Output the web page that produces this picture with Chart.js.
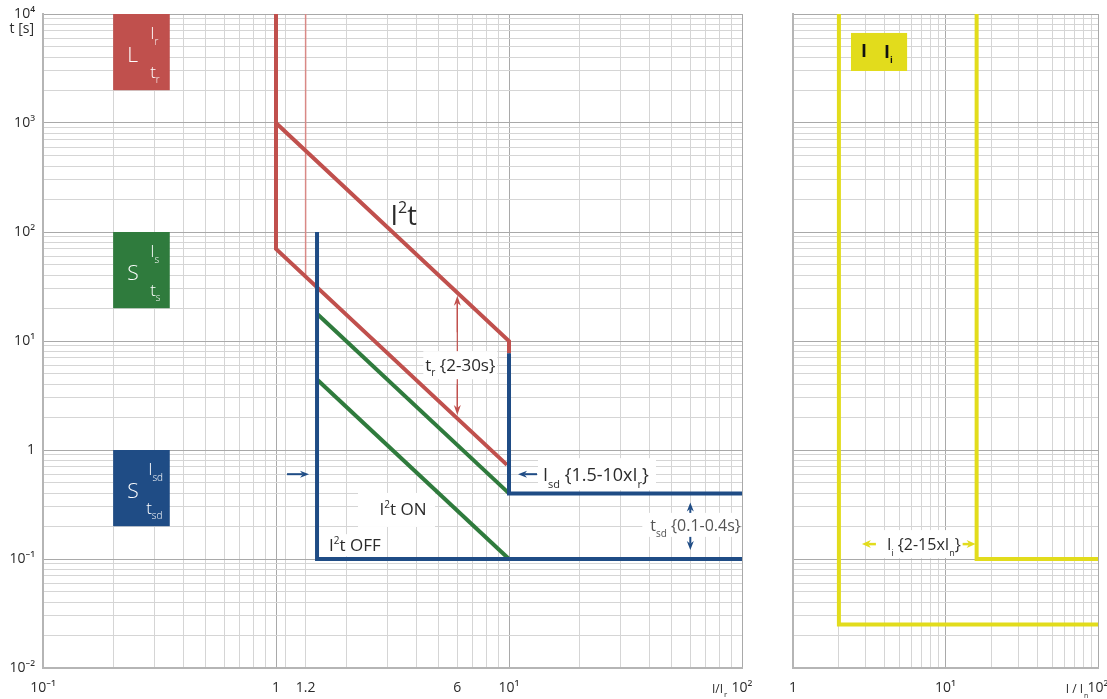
<!DOCTYPE html>
<html><head><meta charset="utf-8">
<script src="https://cdn.jsdelivr.net/npm/chart.js@4.4.1/dist/chart.umd.min.js"></script>
<style>
html,body{margin:0;padding:0;background:#fff;}
#wrap{position:relative;width:1107px;height:699px;overflow:hidden;background:#fff;}
#c1{position:absolute;left:0;top:0;}
#c2{position:absolute;left:760px;top:0;}
</style></head><body>
<div id="wrap"><canvas id="c1" width="760" height="699"></canvas><canvas id="c2" width="347" height="699"></canvas></div>
<script>
// ---------- DATA ----------
const yLabelValues = [0.01, 0.1, 1, 10, 100, 1000, 10000];
const yLabelTexts  = ['10⁻²', '10⁻¹', '1', '10¹', '10²', '10³', '10⁴'];
const xLeftLabelValues = [0.1, 1, 1.34, 6, 10, 100];
const xLeftLabelTexts  = ['10⁻¹', '1', '1.2', '6', '10¹', '10²'];
const xLeftExtraGrid   = [1.1, 1.34];
const xRightLabelValues = [1, 10, 100];
const xRightLabelTexts  = ['1', '10¹', '10²'];

// long-time (L) curves
const redLower   = [{x:1,y:10000},{x:1,y:70},{x:9.8,y:0.73}];
const redUpper   = [{x:1,y:1000},{x:10,y:10},{x:10,y:7.7}];
const redThin    = [{x:1.34,y:10000},{x:1.34,y:39}];
// short-time (S) curves
const greenUpper = [{x:1.5,y:17.8},{x:10,y:0.4}];
const greenLower = [{x:1.5,y:4.44},{x:10,y:0.1}];
const blueLow    = [{x:1.5,y:100},{x:1.5,y:0.1},{x:100,y:0.1}];
const blueHigh   = [{x:10,y:7.7},{x:10,y:0.4},{x:100,y:0.4}];
// instantaneous (I) curves
const yellowLow  = [{x:2,y:10000},{x:2,y:0.025},{x:100,y:0.025}];
const yellowHigh = [{x:16,y:10000},{x:16,y:0.1},{x:100,y:0.1}];

// ---------- STYLE ----------
const RED='#C0504D', RED_THIN='#D98986', GREEN='#2F7B3D', BLUE='#1F4C85', YELLOW='#E2DC1C';
const FONT='"Open Sans", "Noto Sans", sans-serif';
const TXT='#2b2b2b';

function gridValues(lo, hi){ const out=[]; for(let e=lo;e<hi;e++){ for(let m=1;m<10;m++) out.push(+(m*Math.pow(10,e)).toPrecision(6)); } out.push(Math.pow(10,hi)); return out; }
function isDecade(v){ const l=Math.log10(v); return Math.abs(l-Math.round(l))<1e-6; }
function labelFor(v, vals, texts){ for(let i=0;i<vals.length;i++){ if(Math.abs(v-vals[i])<1e-6*vals[i]) return texts[i]; } return ''; }
const gridColor = c => (c.tick && isDecade(c.tick.value)) ? '#a9a9a9' : '#d5d5d5';

function ds(data,color,w){ return {data, borderColor:color, borderWidth:w, pointRadius:0, showLine:true, fill:false, tension:0, clip:6, borderJoinStyle:'miter', borderCapStyle:'butt'}; }

function rich(ctx, x, y, parts, align, color){
  ctx.save(); ctx.fillStyle=color||TXT; ctx.textBaseline='alphabetic'; ctx.textAlign='left';
  let w=0; parts.forEach(p=>{ ctx.font=`${p[3]||'normal'} ${p[1]}px ${FONT}`; p.w=ctx.measureText(p[0]).width; w+=p.w; });
  let cx = align==='center' ? x-w/2 : align==='right' ? x-w : x;
  parts.forEach(p=>{ ctx.font=`${p[3]||'normal'} ${p[1]}px ${FONT}`; ctx.fillText(p[0], cx, y+(p[2]||0)); cx+=p.w; });
  ctx.restore(); return w;
}
function arrow(ctx,x1,y1,x2,y2,color,lw,hl,hw){
  const a=Math.atan2(y2-y1,x2-x1), c=Math.cos(a), s=Math.sin(a);
  ctx.save(); ctx.strokeStyle=color; ctx.fillStyle=color; ctx.lineWidth=lw;
  ctx.beginPath(); ctx.moveTo(x1,y1); ctx.lineTo(x2-c*hl*0.7, y2-s*hl*0.7); ctx.stroke();
  ctx.beginPath(); ctx.moveTo(x2,y2);
  ctx.lineTo(x2-hl*c+hw*s, y2-hl*s-hw*c);
  ctx.lineTo(x2-hl*c*0.7, y2-hl*s*0.7);
  ctx.lineTo(x2-hl*c-hw*s, y2-hl*s+hw*c);
  ctx.closePath(); ctx.fill(); ctx.restore();
}
function whiteRect(ctx,x,y,w,h){ ctx.save(); ctx.fillStyle='#fff'; ctx.fillRect(x,y,w,h); ctx.restore(); }

function scaleOpts(gridVals, labelVals, labelTexts, fitProp, fitVal, showLabels, pad){
  return {
    type:'logarithmic',
    min: gridVals[0], max: gridVals[gridVals.length-1],
    afterBuildTicks: s => { s.ticks = gridVals.map(v=>({value:v})); },
    afterFit: s => { s[fitProp]=fitVal; s.paddingLeft=0; s.paddingRight=0; s.paddingTop=0; s.paddingBottom=0; },
    ticks:{ display:showLabels, autoSkip:false, maxRotation:0, minRotation:0, padding:pad, align:'center',
      font:{family:FONT, size:14}, color:TXT,
      callback: v => labelFor(v, labelVals, labelTexts) },
    grid:{ color:gridColor, lineWidth:1, drawTicks:false },
    border:{ display:true, color:'#b5b5b5', width:2 }
  };
}

// ---------- LEFT PANEL ----------
const leftX = gridValues(-1,2).concat(xLeftExtraGrid).sort((a,b)=>a-b);
const leftY = gridValues(-2,4);

const leftAnno = {
  id:'leftAnno',
  afterDatasetsDraw(chart){
    const ctx=chart.ctx, xs=chart.scales.x, ys=chart.scales.y;
    const X=v=>xs.getPixelForValue(v), Y=v=>ys.getPixelForValue(v);
    // setting boxes
    const boxes=[
      {y0:10000,y1:2000,color:RED,    main:'L', sub:'r'},
      {y0:100,  y1:20,  color:GREEN,  main:'S', sub:'s'},
      {y0:1,    y1:0.2, color:BLUE,   main:'S', sub:'sd'}
    ];
    boxes.forEach(b=>{
      const x0=X(0.2), x1=X(0.35), y0=Y(b.y0), y1=Y(b.y1);
      ctx.save(); ctx.fillStyle=b.color; ctx.fillRect(x0,y0,x1-x0,y1-y0); ctx.restore();
      const sd=b.sub==='sd';
      rich(ctx, x0+14, y0+48, [[b.main,21,0,'300']], 'left', '#fff');
      rich(ctx, x0+(sd?35:37), y0+25, [['I',17,0,'300'],[b.sub,10,6,'300']], 'left', '#fff');
      rich(ctx, x0+(sd?33:37), y0+64, [['t',17,0,'300'],[b.sub,10,5,'300']], 'left', '#fff');
    });
    // I²t label
    rich(ctx, X(3.1), Y(143)+10, [['I',27],['2',16,-12],['t',27]], 'left');
    // t_r double arrow
    const ax=X(6);
    ctx.save(); ctx.strokeStyle=RED; ctx.lineWidth=1.2; ctx.beginPath(); ctx.moveTo(ax,Y(26)+8); ctx.lineTo(ax,Y(2.1)-8); ctx.stroke(); ctx.restore();
    arrow(ctx, ax, Y(12), ax, Y(26), RED, 1.2, 10, 3.5);
    arrow(ctx, ax, Y(4), ax, Y(2.1), RED, 1.2, 10, 3.5);
    const tcy=Y(6);
    whiteRect(ctx, ax-34, tcy-14, 74, 28);
    rich(ctx, ax+3, tcy+6, [['t',17],['r',10,5],[' {2-30s}',17]], 'center');
    // I_sd
    const iy=Y(0.6);
    arrow(ctx, X(1.5)-30, iy, X(1.5)-8, iy, BLUE, 2, 9, 3.5);
    whiteRect(ctx, X(10)+29, iy-16, 118, 32);
    arrow(ctx, X(10)+28, iy, X(10)+9, iy, BLUE, 2, 9, 3.5);
    rich(ctx, X(10)+34, iy+7, [['I',18],['sd',11,7],[' {1.5-10xI',18],['r',11,7],['}',18]], 'left');
    // I²t ON / OFF
    whiteRect(ctx, 358, Y(0.294)-15, 77, 34);
    rich(ctx, 403, Y(0.294)+7, [['I',17],['2',10,-7],['t ON',17]], 'center');
    whiteRect(ctx, X(1.5)+6, Y(0.134)-11, 64, 22);
    rich(ctx, X(1.5)+12, Y(0.134)+6, [['I',17],['2',10,-7],['t OFF',17]], 'left');
    // t_sd
    const tx=X(60);
    arrow(ctx, tx, Y(0.4)+22, tx, Y(0.4)+9, BLUE, 2, 9, 3.5);
    arrow(ctx, tx, Y(0.1)-23, tx, Y(0.1)-9, BLUE, 2, 9, 3.5);
    whiteRect(ctx, tx-48, Y(0.21)-11, 96, 24);
    rich(ctx, tx-40, Y(0.21)+7, [['t',16],['sd',10,6],[' {0.1-0.4s}',16]], 'left', '#555');
    // axis captions
    rich(ctx, 34, 33, [['t [s]',14]], 'right');
    rich(ctx, 723, 693, [['I/I',12]], 'right');
    rich(ctx, 724, 697, [['r',8]], 'left');
  }
};

new Chart(document.getElementById('c1'), {
  type:'scatter',
  data:{ datasets:[
    ds(blueHigh,BLUE,4), ds(blueLow,BLUE,4),
    ds(greenUpper,GREEN,4), ds(greenLower,GREEN,4),
    ds(redUpper,RED,4), ds(redLower,RED,4), ds(redThin,RED_THIN,1.5)
  ]},
  options:{
    responsive:false, animation:false, events:[],
    layout:{ autoPadding:false, padding:{ top:14, right:18, left:0, bottom:0 } },
    plugins:{ legend:{display:false}, tooltip:{enabled:false} },
    scales:{
      x: scaleOpts(leftX, xLeftLabelValues, xLeftLabelTexts, 'height', 31, true, 12),
      y: scaleOpts(leftY, yLabelValues, yLabelTexts, 'width', 43, true, 8)
    }
  },
  plugins:[leftAnno]
});

// ---------- RIGHT PANEL ----------
const rightX = gridValues(0,2);
const rightAnno = {
  id:'rightAnno',
  afterDatasetsDraw(chart){
    const ctx=chart.ctx, xs=chart.scales.x, ys=chart.scales.y;
    const X=v=>xs.getPixelForValue(v), Y=v=>ys.getPixelForValue(v);
    const x0=X(2.4), x1=X(5.6), y0=Y(6700), y1=Y(3000);
    ctx.save(); ctx.fillStyle=YELLOW; ctx.fillRect(x0,y0,x1-x0,y1-y0); ctx.restore();
    rich(ctx, x0+10, y0+24, [['I',18,0,'bold']], 'left', '#111');
    rich(ctx, x0+33, y0+25, [['I',18,0,'bold'],['i',9,5,'bold']], 'left', '#111');
    const ly=Y(0.137);
    arrow(ctx, X(2)+37, ly, X(2)+23, ly, YELLOW, 2.5, 9, 4);
    arrow(ctx, X(16)-14, ly, X(16)-1, ly, YELLOW, 2.5, 9, 4);
    whiteRect(ctx, X(2)+44, ly-14, 76, 28);
    rich(ctx, X(2)+48, ly+6, [['I',16],['i',9,6],[' {2-15xI',16],['n',9,6],['}',16]], 'left');
    rich(ctx, 1083-760, 693, [['I / I',12]], 'right');
    rich(ctx, 1084-760, 698, [['n',7]], 'left');
  }
};
new Chart(document.getElementById('c2'), {
  type:'scatter',
  data:{ datasets:[ ds(yellowLow,YELLOW,4), ds(yellowHigh,YELLOW,4) ]},
  options:{
    responsive:false, animation:false, events:[],
    layout:{ autoPadding:false, padding:{ top:14, right:9, left:0, bottom:0 } },
    plugins:{ legend:{display:false}, tooltip:{enabled:false} },
    scales:{
      x: scaleOpts(rightX, xRightLabelValues, xRightLabelTexts, 'height', 31, true, 12),
      y: scaleOpts(leftY, yLabelValues, yLabelTexts, 'width', 33, false, 8)
    }
  },
  plugins:[rightAnno]
});
</script>
</body></html>
